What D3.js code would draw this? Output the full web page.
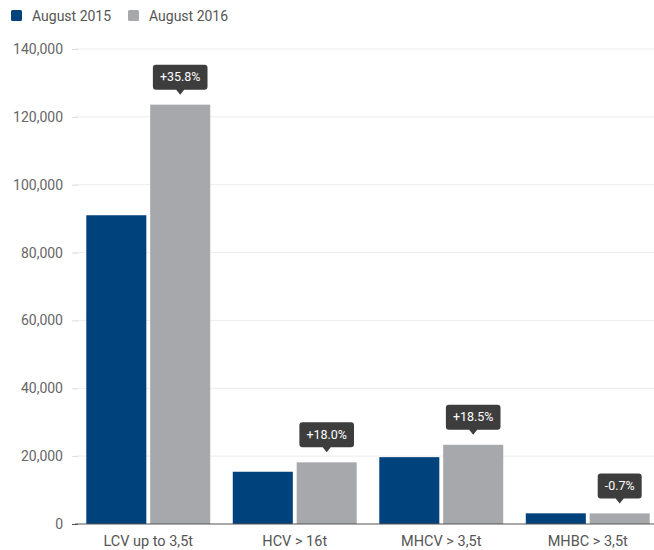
<!DOCTYPE html>
<html>
<head>
<meta charset="utf-8">
<script src="https://cdn.jsdelivr.net/npm/d3@7"></script>
<style>
  html, body { margin: 0; padding: 0; background: #fff; }
  svg { display: block; font-family: Roboto, "Noto Sans", sans-serif; }
</style>
</head>
<body>
<svg id="chart" width="654" height="550"></svg>
<script>
// Registrations by vehicle class
const categories = ["LCV up to 3,5t", "HCV > 16t", "MHCV > 3,5t", "MHBC > 3,5t"];
const seriesNames = ["August 2015", "August 2016"];
const values2015 = [91000, 15400, 19700, 3150];
const values2016 = [123600, 18170, 23350, 3128];
const changeLabels = ["+35.8%", "+18.0%", "+18.5%", "-0.7%"];
const yTicks = [0, 20000, 40000, 60000, 80000, 100000, 120000, 140000];

const colors = ["#00427c", "#a7a8ab"];
const svg = d3.select("#chart");

const y = d3.scaleLinear().domain([0, 140000]).range([524, 49]);
const x0 = d3.scaleBand().domain(categories).range([75, 661])
  .paddingInner(0.154).paddingOuter(0.077);
const x1 = d3.scaleBand().domain(seriesNames).range([0, x0.bandwidth()])
  .paddingInner(0.06);

// gridlines
svg.append("g").selectAll("line").data(yTicks.filter(d => d > 0)).join("line")
  .attr("x1", 75).attr("x2", 654)
  .attr("y1", d => y(d)).attr("y2", d => y(d))
  .attr("stroke", "#ececec").attr("stroke-width", 1);

// y axis
const yAxis = svg.append("g").attr("transform", "translate(78,0)")
  .call(d3.axisLeft(y).tickValues(yTicks).tickFormat(d3.format(",")).tickSize(6).tickPadding(9));
yAxis.select(".domain").remove();
yAxis.selectAll(".tick line").attr("stroke", d => d === 0 ? "#555" : "#ddd");
yAxis.selectAll(".tick text").attr("fill", "#666").style("font-size", "14px")
  .style("font-family", "Roboto, sans-serif");

// bars
const rows = categories.map((c, i) => ({ cat: c, vals: [values2015[i], values2016[i]], label: changeLabels[i] }));
const groups = svg.append("g").selectAll("g").data(rows).join("g")
  .attr("transform", d => `translate(${x0(d.cat)},0)`);
groups.selectAll("rect").data(d => d.vals.map((v, j) => ({ s: seriesNames[j], v, j }))).join("rect")
  .attr("x", d => x1(d.s)).attr("width", x1.bandwidth())
  .attr("y", d => y(d.v)).attr("height", d => y(0) - y(d.v))
  .attr("fill", d => colors[d.j]);

// baseline
svg.append("line").attr("x1", 75).attr("x2", 654).attr("y1", y(0)).attr("y2", y(0))
  .attr("stroke", "#555").attr("stroke-width", 1.2);

// x labels
svg.append("g").selectAll("text").data(categories).join("text")
  .attr("x", d => x0(d) + x0.bandwidth() / 2).attr("y", 546)
  .attr("text-anchor", "middle").attr("fill", "#555").style("font-size", "14.5px")
  .text(d => d);

// change callouts above the 2016 bars
const callouts = svg.append("g").selectAll("g").data(rows).join("g")
  .attr("transform", d => `translate(${x0(d.cat) + x1(seriesNames[1]) + x1.bandwidth() / 2},${y(d.vals[1]) - 10})`);
callouts.each(function(d) {
  const g = d3.select(this);
  const t = g.append("text").attr("x", 0).attr("y", -13.5)
    .attr("text-anchor", "middle").attr("fill", "#fff")
    .style("font-size", "12.5px").style("font-weight", "400").text(d.label);
  const w = t.node().getComputedTextLength() + 14;
  g.insert("path", "text")
    .attr("d", `M${-w/2 + 3},-30 H${w/2 - 3} Q${w/2},-30 ${w/2},-27 V-8 Q${w/2},-5 ${w/2 - 3},-5 H4 L0,0 L-4,-5 H${-w/2 + 3} Q${-w/2},-5 ${-w/2},-8 V-27 Q${-w/2},-30 ${-w/2 + 3},-30 Z`)
    .attr("fill", "#3d3d3d");
});

// legend
const legend = svg.append("g").selectAll("g").data(seriesNames).join("g")
  .attr("transform", (d, i) => `translate(${[11, 128][i]},10)`);
legend.append("rect").attr("width", 11).attr("height", 11).attr("rx", 1.5)
  .attr("fill", (d, i) => colors[i]);
legend.append("text").attr("x", 21).attr("y", 11).attr("fill", "#555")
  .style("font-size", "14px").text(d => d);
</script>
</body>
</html>
